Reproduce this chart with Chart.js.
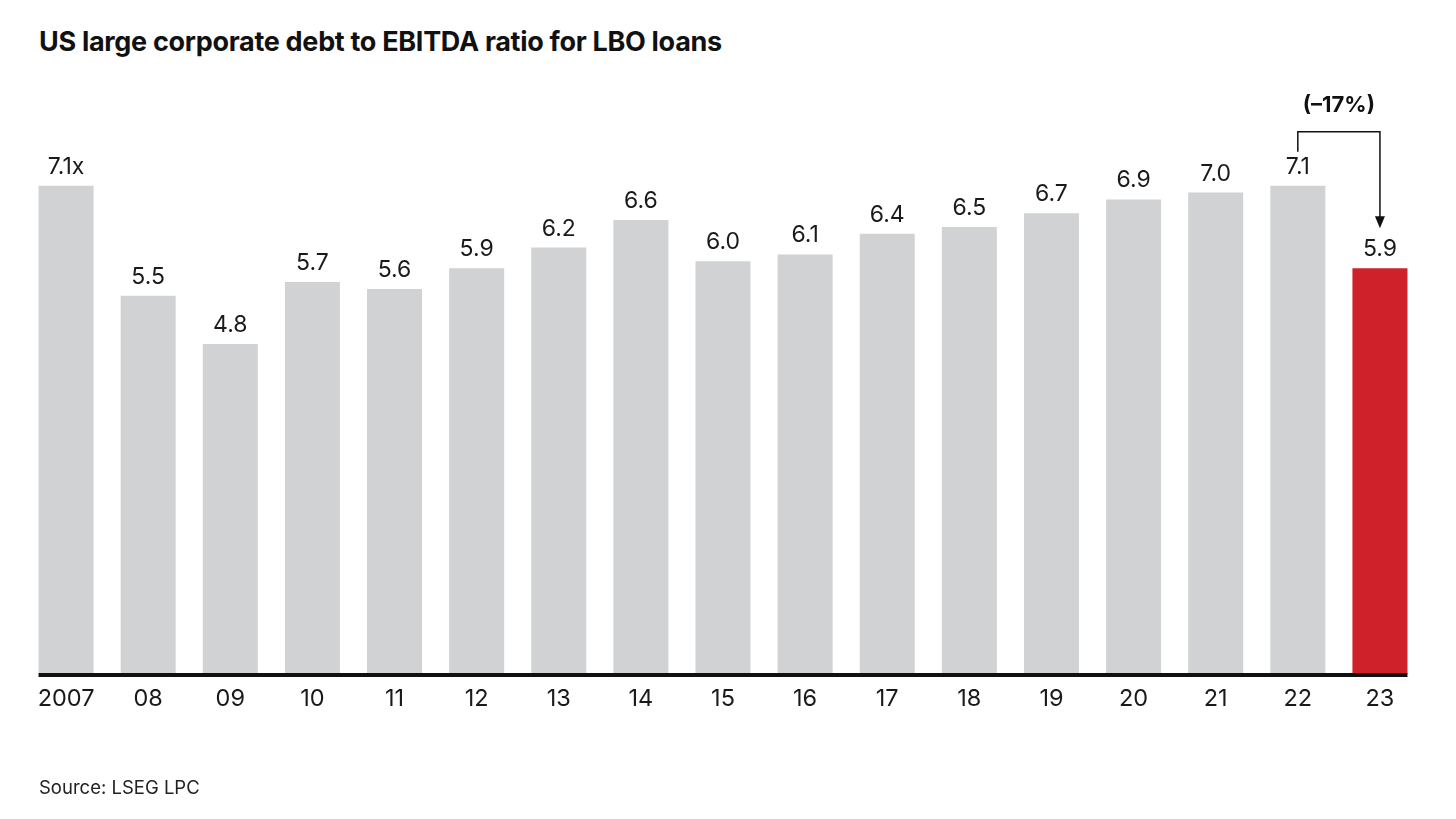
<!DOCTYPE html>
<html>
<head>
<meta charset="utf-8">
<script src="https://cdn.jsdelivr.net/npm/chart.js@4.4.1/dist/chart.umd.min.js"></script>
<style>
    body { margin: 0; background: #fff; font-family: Inter, "Open Sans", sans-serif; }
    #wrap { position: relative; width: 1456px; height: 819px; }
    #title { position: absolute; left: 39px; top: 25px; font-size: 27px; font-weight: 700; color: #111; letter-spacing: -0.3px; }
    #source { position: absolute; left: 39px; top: 776px; font-size: 18.5px; color: #222; }
    canvas { position: absolute; left: 0; top: 0; }
</style>
</head>
<body>
<div id="wrap">
    <div id="title">US large corporate debt to EBITDA ratio for LBO loans</div>
    <canvas id="chart" width="1456" height="819"></canvas>
    <div id="source">Source: LSEG LPC</div>
</div>
<script>
// data
const years = ['2007', '08', '09', '10', '11', '12', '13', '14', '15', '16', '17', '18', '19', '20', '21', '22', '23'];
const ratios = [7.1, 5.5, 4.8, 5.7, 5.6, 5.9, 6.2, 6.6, 6.0, 6.1, 6.4, 6.5, 6.7, 6.9, 7.0, 7.1, 5.9];

const grey = '#d1d2d4';
const red = '#cf2129';
const barColors = ratios.map((v, i) => i === ratios.length - 1 ? red : grey);

// value labels above bars, first one gets the "x"
const valueLabels = {
    id: 'valueLabels',
    afterDatasetsDraw(chart) {
        const ctx = chart.ctx;
        const meta = chart.getDatasetMeta(0);
        ctx.save();
        ctx.font = '400 23px Inter, "Open Sans", sans-serif';
        ctx.fillStyle = '#1a1a1a';
        ctx.textAlign = 'center';
        ctx.textBaseline = 'middle';
        meta.data.forEach((bar, i) => {
            let txt = ratios[i].toFixed(1);
            if (i === 0) txt += 'x';
            ctx.fillText(txt, bar.x, bar.y - 19);
        });
        ctx.restore();
    }
};

// black baseline and the bracket arrow between the last two bars
const extras = {
    id: 'extras',
    afterDraw(chart) {
        const ctx = chart.ctx;
        const meta = chart.getDatasetMeta(0);
        const first = meta.data[0];
        const last = meta.data[meta.data.length - 1];
        const prev = meta.data[meta.data.length - 2];
        const base = chart.scales.y.getPixelForValue(0);

        ctx.save();
        ctx.fillStyle = '#111';
        ctx.fillRect(first.x - first.width / 2, base - 1, (last.x + last.width / 2) - (first.x - first.width / 2), 4);

        const topY = prev.y - 54;
        const tipY = last.y - 40;
        ctx.strokeStyle = '#111';
        ctx.lineWidth = 1.5;
        ctx.beginPath();
        ctx.moveTo(prev.x, prev.y - 34);
        ctx.lineTo(prev.x, topY);
        ctx.lineTo(last.x, topY);
        ctx.lineTo(last.x, tipY - 10);
        ctx.stroke();
        ctx.beginPath();
        ctx.moveTo(last.x - 5, tipY - 12);
        ctx.lineTo(last.x + 5, tipY - 12);
        ctx.lineTo(last.x, tipY);
        ctx.closePath();
        ctx.fill();

        const a = ratios[ratios.length - 2], b = ratios[ratios.length - 1];
        const pct = Math.round((b - a) / a * 100);
        ctx.font = '700 22px Inter, "Open Sans", sans-serif';
        ctx.textAlign = 'center';
        ctx.textBaseline = 'middle';
        ctx.fillText('(\u2013' + Math.abs(pct) + '%)', (prev.x + last.x) / 2, topY - 26);
        ctx.restore();
    }
};

new Chart(document.getElementById('chart'), {
    type: 'bar',
    data: {
        labels: years,
        datasets: [{
            data: ratios,
            backgroundColor: barColors,
            borderWidth: 0,
            barPercentage: 0.67,
            categoryPercentage: 1
        }]
    },
    options: {
        responsive: false,
        animation: false,
        layout: { padding: { left: 25, right: 35, top: 86, bottom: 85 } },
        plugins: { legend: { display: false }, tooltip: { enabled: false } },
        scales: {
            x: {
                grid: { display: false, drawTicks: false },
                border: { display: false },
                ticks: {
                    color: '#1a1a1a',
                    font: { family: 'Inter, "Open Sans", sans-serif', size: 23.5 },
                    padding: 11,
                    maxRotation: 0,
                    autoSkip: false
                },
                afterFit: (scale) => { scale.height = 60; }
            },
            y: {
                display: false,
                min: 0,
                max: 8.55
            }
        }
    },
    plugins: [valueLabels, extras]
});
</script>
</body>
</html>
